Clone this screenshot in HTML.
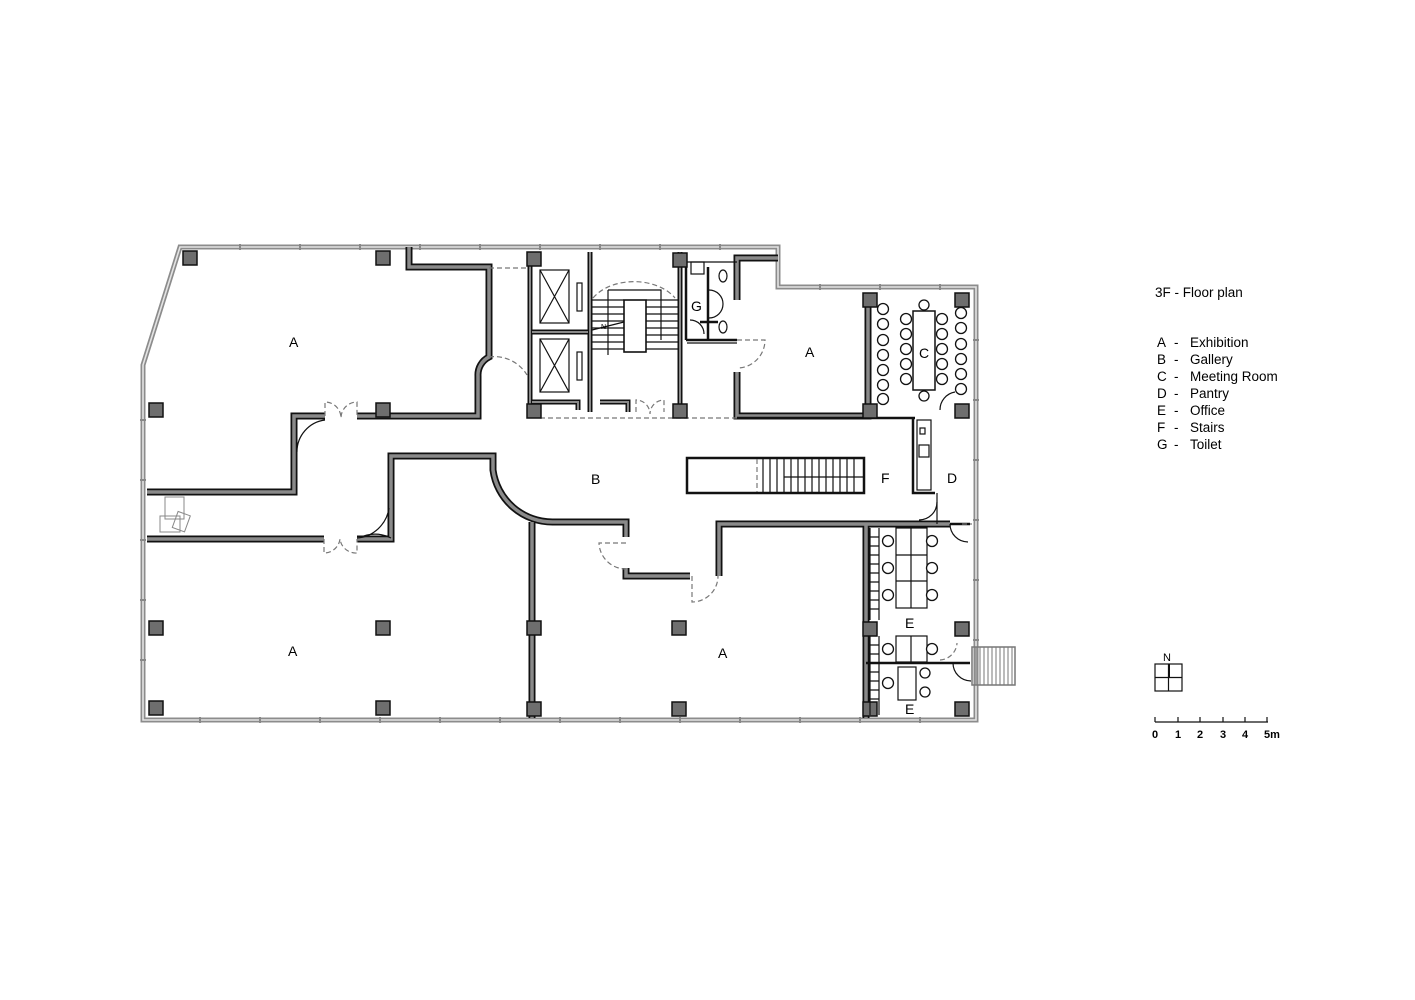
<!DOCTYPE html>
<html><head><meta charset="utf-8"><style>
html,body{margin:0;padding:0;background:#fff;}
svg{display:block;}
text{font-family:"Liberation Sans",Arial,sans-serif;fill:#000;}
.wb{fill:none;stroke:#111;stroke-width:7;stroke-linejoin:miter;stroke-linecap:butt;}
.wg{fill:none;stroke:#8a8a8a;stroke-width:3.5;stroke-linejoin:miter;stroke-linecap:butt;}
.gl1{fill:none;stroke:#8c8c8c;stroke-width:5;}
.gl2{fill:none;stroke:#e4e4e4;stroke-width:1.6;}
.col{fill:#6e6e6e;stroke:#111;stroke-width:1.5;}
.th{fill:none;stroke:#111;stroke-width:1.2;}
.tk{fill:none;stroke:#111;stroke-width:2.5;}
.ds{fill:none;stroke:#777;stroke-width:1.2;stroke-dasharray:5,3;}
.ch{fill:#fff;stroke:#111;stroke-width:1.3;}
.lbl{font-size:14px;}
</style></head><body>
<svg width="1415" height="1000" viewBox="0 0 1415 1000" xmlns="http://www.w3.org/2000/svg">
<defs>
<path id="w1" d="M409,247 V267 H489 V357 A20,20 0 0 0 478,376 V416 H357"/>
<path id="w2" d="M325,416 H294 V492 H147"/>
<path id="w3" d="M147,539 H324"/>
<path id="w4" d="M357,539 H391 V456 H493 V470 A60,60 0 0 0 553,522 H626 V537"/>
<path id="w5" d="M532,522 V718"/>
<path id="w6" d="M626,568 V576 H690"/>
<path id="w7" d="M719,576 V524 H950"/>
<path id="w8" d="M530,252 V412 M590,252 V412 M532,332 H588 M680,252 V412 M532,402 H578 V410 M600,402 H628 V412"/>
<path id="w9" d="M737,300 V258 H778 M737,372 V416 H868 V300"/>
<path id="w10" d="M866,524 V718"/>
</defs>
<path class="gl1" d="M180,247 H778 V287 H976 V720 H143 V365 Z"/>
<path class="gl2" d="M180,247 H778 V287 H976 V720 H143 V365 Z"/>
<g stroke="#888" stroke-width="2">
<path d="M240,244v6M300,244v6M360,244v6M420,244v6M480,244v6M540,244v6M600,244v6M660,244v6M720,244v6M820,284v6M880,284v6M940,284v6"/>
<path d="M200,717v6M260,717v6M320,717v6M380,717v6M440,717v6M500,717v6M560,717v6M620,717v6M680,717v6M740,717v6M800,717v6M860,717v6M920,717v6"/>
<path d="M140,420h6M140,480h6M140,540h6M140,600h6M140,660h6M973,340h6M973,400h6M973,460h6M973,520h6M973,580h6M973,640h6"/>
</g>
<g class="wb"><use href="#w1"/><use href="#w2"/><use href="#w3"/><use href="#w4"/><use href="#w5"/><use href="#w6"/><use href="#w7"/><use href="#w9"/><use href="#w10"/></g>
<g class="wg"><use href="#w1"/><use href="#w2"/><use href="#w3"/><use href="#w4"/><use href="#w5"/><use href="#w6"/><use href="#w7"/><use href="#w9"/><use href="#w10"/></g>
<g class="wb" style="stroke-width:5"><use href="#w8"/></g>
<g class="wg" style="stroke-width:2"><use href="#w8"/></g>
<path class="tk" d="M737,418 H915 M913,418 V493 H935 M950,524 H970 M866,663 H970 M686,340 H737 M686,267 V340 M708,267 V340 M700,322 H718"/>
<path class="th" d="M686,262 H737 M687,343 H737 M937,493 V524"/>
<path class="ds" d="M489,268 H530 M489,357 A38,38 0 0 1 527,375 M540,418 H740 M325,416 v-14 a16,16 0 0 1 16,16 a16,16 0 0 1 16,-16 v14 M324,539 v14 a16,16 0 0 0 16,-14 a16,16 0 0 0 17,14 v-14 M636,412 v-12 a14,14 0 0 1 14,14 a14,14 0 0 1 14,-14 v12 M737,340 h28 a28,28 0 0 1 -28,28 M626,543 h-27 a27,27 0 0 0 27,26 M692,576 v26 a26,26 0 0 0 26,-26 M962,524 h10 M940,660 a18,18 0 0 0 17,-17"/>
<path class="th" d="M297,452 a32,32 0 0 1 28,-32 M391,538 a35,35 0 0 0 -32,0 M357,538 a35,35 0 0 0 32,-30 M950,524 a18,18 0 0 0 18,18 M953,663 a18,18 0 0 0 18,18 M937,502 a18,18 0 0 1 -18,18 M940,410 a18,18 0 0 1 15,-18"/>
<g class="col">
<rect x="183" y="251" width="14" height="14"/><rect x="376" y="251" width="14" height="14"/><rect x="527" y="252" width="14" height="14"/><rect x="673" y="253" width="14" height="14"/>
<rect x="863" y="293" width="14" height="14"/><rect x="955" y="293" width="14" height="14"/>
<rect x="149" y="403" width="14" height="14"/><rect x="376" y="403" width="14" height="14"/><rect x="527" y="404" width="14" height="14"/><rect x="673" y="404" width="14" height="14"/><rect x="863" y="404" width="14" height="14"/><rect x="955" y="404" width="14" height="14"/>
<rect x="149" y="621" width="14" height="14"/><rect x="376" y="621" width="14" height="14"/><rect x="527" y="621" width="14" height="14"/><rect x="672" y="621" width="14" height="14"/><rect x="863" y="622" width="14" height="14"/><rect x="955" y="622" width="14" height="14"/>
<rect x="149" y="701" width="14" height="14"/><rect x="376" y="701" width="14" height="14"/><rect x="527" y="702" width="14" height="14"/><rect x="672" y="702" width="14" height="14"/><rect x="863" y="702" width="14" height="14"/><rect x="955" y="702" width="14" height="14"/>
</g>
<g class="th">
<rect x="540" y="270" width="29" height="53"/><path d="M540,270 L569,323 M569,270 L540,323"/><rect x="577" y="283" width="5" height="28"/>
<rect x="540" y="339" width="29" height="53"/><path d="M540,339 L569,392 M569,339 L540,392"/><rect x="577" y="352" width="5" height="28"/>
</g>
<path class="ds" d="M593,298 A47,32 0 0 1 675,298"/>
<g class="th">
<rect x="624" y="300" width="22" height="52" style="stroke-width:1.6"/>
<path d="M608,290 H661 V340 M608,290 V355"/>
<path d="M592,300 H624 M592,307 H624 M592,314 H624 M592,321 H624 M592,328 H624 M592,335 H624 M592,342 H624 M592,349 H624 M646,300 H678 M646,307 H678 M646,314 H678 M646,321 H678 M646,328 H678 M646,335 H678 M646,342 H678 M646,349 H678"/>
<path d="M592,330 L624,322"/>
</g>
<text x="601" y="329" style="font-size:7px">N</text>
<g class="th"><rect x="691" y="262" width="13" height="12"/><ellipse cx="723" cy="276" rx="4" ry="6"/><ellipse cx="723" cy="327" rx="4" ry="6"/>
<path d="M709,290 a14,14 0 0 1 0,28 M690,320 a14,14 0 0 1 14,14"/></g>
<rect x="687" y="458" width="177" height="35" fill="none" stroke="#111" stroke-width="2.5"/>
<g class="th"><path d="M763,459 V492 M770,459 V492 M777,459 V492 M784,459 V492 M791,459 V492 M798,459 V492 M805,459 V492 M812,459 V492 M819,459 V492 M826,459 V492 M833,459 V492 M840,459 V492 M847,459 V492 M854,459 V492 M784,477 H864"/></g>
<path class="ds" d="M757,459 V492"/>
<g class="th"><rect x="917" y="420" width="14" height="70"/><rect x="919" y="445" width="10" height="12"/><rect x="920" y="428" width="5" height="6"/></g>
<rect x="913" y="311" width="22" height="79" fill="none" stroke="#111" stroke-width="1.5"/>
<g class="ch">
<circle cx="924" cy="305" r="5"/><circle cx="924" cy="396" r="5"/>
<circle cx="906" cy="319" r="5.5"/><circle cx="906" cy="334" r="5.5"/><circle cx="906" cy="349" r="5.5"/><circle cx="906" cy="364" r="5.5"/><circle cx="906" cy="379" r="5.5"/>
<circle cx="942" cy="319" r="5.5"/><circle cx="942" cy="334" r="5.5"/><circle cx="942" cy="349" r="5.5"/><circle cx="942" cy="364" r="5.5"/><circle cx="942" cy="379" r="5.5"/>
<circle cx="883" cy="309" r="5.5"/><circle cx="883" cy="324" r="5.5"/><circle cx="883" cy="340" r="5.5"/><circle cx="883" cy="355" r="5.5"/><circle cx="883" cy="370" r="5.5"/><circle cx="883" cy="385" r="5.5"/><circle cx="883" cy="399" r="5.5"/>
<circle cx="961" cy="313" r="5.5"/><circle cx="961" cy="328" r="5.5"/><circle cx="961" cy="344" r="5.5"/><circle cx="961" cy="359" r="5.5"/><circle cx="961" cy="374" r="5.5"/><circle cx="961" cy="389" r="5.5"/>
</g>
<g class="th">
<path d="M870,528 V620 M879,528 V620 M870,537 H879 M870,546 H879 M870,555 H879 M870,564 H879 M870,573 H879 M870,582 H879 M870,591 H879 M870,600 H879 M870,609 H879"/>
<path d="M870,636 V715 M879,636 V715 M870,645 H879 M870,654 H879 M870,672 H879 M870,681 H879 M870,690 H879 M870,699 H879"/>
<rect x="896" y="528" width="31" height="80"/><path d="M911,528 V608 M896,555 H927 M896,581 H927"/>
<rect x="896" y="636" width="31" height="26"/><path d="M911,636 V662"/>
<rect x="898" y="667" width="18" height="33"/>
</g>
<g class="ch">
<circle cx="888" cy="541" r="5.5"/><circle cx="888" cy="568" r="5.5"/><circle cx="888" cy="595" r="5.5"/>
<circle cx="932" cy="541" r="5.5"/><circle cx="932" cy="568" r="5.5"/><circle cx="932" cy="595" r="5.5"/>
<circle cx="888" cy="649" r="5.5"/><circle cx="932" cy="649" r="5.5"/>
<circle cx="888" cy="683" r="5.5"/><circle cx="925" cy="673" r="5"/><circle cx="925" cy="692" r="5"/>
</g>
<rect x="972" y="647" width="43" height="38" fill="none" stroke="#777" stroke-width="1.5"/>
<g stroke="#777" stroke-width="1"><path d="M976,647v38M980,647v38M984,647v38M988,647v38M992,647v38M996,647v38M1000,647v38M1004,647v38M1008,647v38M1012,647v38"/></g>
<g fill="none" stroke="#888" stroke-width="1"><rect x="165" y="497" width="19" height="22"/><rect x="160" y="516" width="20" height="16"/><rect x="175" y="513" width="13" height="17" transform="rotate(20 181 521)"/></g>
<g class="lbl">
<text x="289" y="347">A</text><text x="805" y="357">A</text><text x="919" y="358">C</text>
<text x="591" y="484">B</text><text x="881" y="483">F</text><text x="947" y="483">D</text>
<text x="288" y="656">A</text><text x="718" y="658">A</text>
<text x="905" y="628">E</text><text x="905" y="714">E</text><text x="691" y="311">G</text>
</g>
<g style="font-size:13.5px">
<text x="1155" y="297">3F - Floor  plan</text>
<text x="1157" y="347">A</text><text x="1174" y="347">-</text><text x="1190" y="347">Exhibition</text>
<text x="1157" y="364">B</text><text x="1174" y="364">-</text><text x="1190" y="364">Gallery</text>
<text x="1157" y="381">C</text><text x="1174" y="381">-</text><text x="1190" y="381">Meeting Room</text>
<text x="1157" y="398">D</text><text x="1174" y="398">-</text><text x="1190" y="398">Pantry</text>
<text x="1157" y="415">E</text><text x="1174" y="415">-</text><text x="1190" y="415">Office</text>
<text x="1157" y="432">F</text><text x="1174" y="432">-</text><text x="1190" y="432">Stairs</text>
<text x="1157" y="449">G</text><text x="1174" y="449">-</text><text x="1190" y="449">Toilet</text>
</g>
<text x="1163" y="661" style="font-size:11px">N</text>
<g class="th"><rect x="1155" y="664" width="27" height="27"/><path d="M1155,677.5 H1182 M1168.5,664 V691"/></g>
<path d="M1169,664 V677" stroke="#111" stroke-width="2"/>
<g class="th"><path d="M1155,722 H1268 M1155,717 V722 M1178,717 V722 M1200,717 V722 M1223,717 V722 M1245,717 V722 M1267,717 V722"/></g>
<g style="font-size:11px;font-weight:bold">
<text x="1152" y="738">0</text><text x="1175" y="738">1</text><text x="1197" y="738">2</text><text x="1220" y="738">3</text><text x="1242" y="738">4</text><text x="1264" y="738">5m</text>
</g>
</svg>
</body></html>
